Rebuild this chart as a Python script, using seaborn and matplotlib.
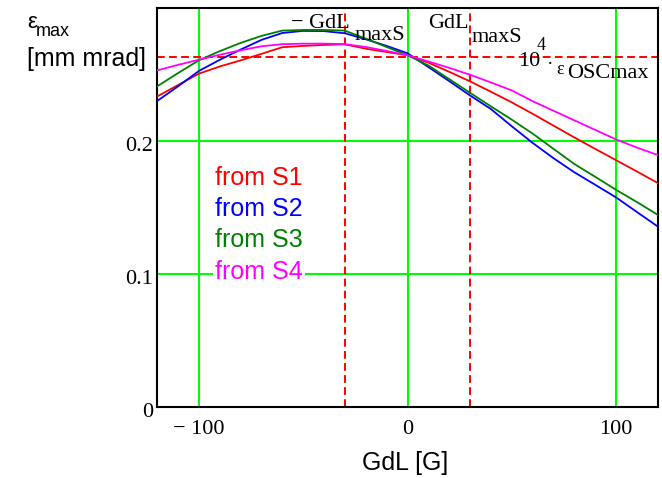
import numpy as np
import pandas as pd
import matplotlib
matplotlib.use("Agg")
import matplotlib.pyplot as plt
import matplotlib.transforms as mtransforms
import seaborn as sns

# ---- data ----
gdl = [-120, -110, -100, -90, -80, -70, -60, -50, -40, -30, -20, -10, 0,
       10, 20, 30, 40, 50, 60, 70, 80, 90, 100, 110, 120]
eps_s1 = [0.2334, 0.2420, 0.2506, 0.2560, 0.2606, 0.2655, 0.2705, 0.2715, 0.2722, 0.2727,
          0.2694, 0.2669, 0.2645, 0.2589, 0.2520, 0.2448, 0.2370, 0.2290, 0.2204, 0.2115,
          0.2026, 0.1940, 0.1855, 0.1770, 0.1683]
eps_s2 = [0.2300, 0.2410, 0.2526, 0.2610, 0.2687, 0.2760, 0.2812, 0.2828, 0.2826, 0.2810,
          0.2765, 0.2715, 0.2660, 0.2556, 0.2450, 0.2342, 0.2240, 0.2110, 0.1985, 0.1870,
          0.1764, 0.1670, 0.1575, 0.1465, 0.1356]
eps_s3 = [0.2410, 0.2510, 0.2606, 0.2675, 0.2737, 0.2790, 0.2830, 0.2835, 0.2835, 0.2830,
          0.2770, 0.2707, 0.2645, 0.2568, 0.2465, 0.2362, 0.2260, 0.2160, 0.2055, 0.1940,
          0.1826, 0.1730, 0.1632, 0.1540, 0.1444]
eps_s4 = [0.2531, 0.2572, 0.2611, 0.2648, 0.2682, 0.2712, 0.2728, 0.2732, 0.2732, 0.2728,
          0.2707, 0.2677, 0.2645, 0.2598, 0.2550, 0.2498, 0.2440, 0.2380, 0.2299, 0.2227,
          0.2155, 0.2083, 0.2011, 0.1950, 0.1894]
series_names = ["from S1", "from S2", "from S3", "from S4"]
series_colors = ["#FF0000", "#0000FF", "#008000", "#FF00FF"]

x_ticks = [-100, 0, 100]
x_tick_labels = ["\u2212 100", "0", "100"]
y_ticks = [0, 0.1, 0.2]
y_tick_labels = ["0", "0.1", "0.2"]
gdl_max_s = 30.0
eps_osc_max = 0.263

# ---- figure ----
sns.set_style("white")
plt.rcParams['font.family'] = ['Liberation Sans', 'DejaVu Sans']
plt.rcParams['text.color'] = 'black'
SERIF = ['Liberation Serif', 'DejaVu Serif']

W, H = 662, 478
fig = plt.figure(figsize=(W / 100, H / 100), dpi=100)
ax = fig.add_axes([157 / W, (H - 407) / H, 501 / W, 399 / H])

df = pd.concat([
    pd.DataFrame({"GdL": gdl, "eps": vals, "source": name})
    for name, vals in zip(series_names, [eps_s1, eps_s2, eps_s3, eps_s4])
])
sns.lineplot(data=df, x="GdL", y="eps", hue="source",
             palette=dict(zip(series_names, series_colors)),
             ax=ax, legend=False, linewidth=1.3, zorder=3)

ax.set_xlim(-120, 120)
ax.set_ylim(0, 0.3)

grid_green = "#00FF00"
for xv in x_ticks:
    ax.axvline(xv, color=grid_green, lw=1.5, zorder=1)
for yv in y_ticks[1:]:
    ax.axhline(yv, color=grid_green, lw=1.5, zorder=1)

dash = (0, (4, 2.2))
ax.axvline(-gdl_max_s, color="#FF0000", lw=1.4, ls=dash, zorder=2)
ax.axvline(gdl_max_s, color="#FF0000", lw=1.4, ls=dash, zorder=2)
ax.axhline(eps_osc_max, color="#FF0000", lw=1.4, ls=dash, zorder=2)

ax.set_xticks(x_ticks)
ax.set_xticklabels(x_tick_labels, fontfamily=SERIF, fontsize=16, color="black")
ax.set_yticks(y_ticks)
ax.set_yticklabels(y_tick_labels, fontfamily=SERIF, fontsize=16, color="black")
ax.tick_params(axis='both', length=0, colors='black')
ax.tick_params(axis='x', pad=9)
ax.tick_params(axis='y', pad=3)
shift = mtransforms.ScaledTranslation(0, -3 / 100, fig.dpi_scale_trans)
for lbl in ax.get_yticklabels():
    lbl.set_transform(lbl.get_transform() + shift)
ax.set_xlabel("")
ax.set_ylabel("")
for sp in ax.spines.values():
    sp.set_color("black")
    sp.set_linewidth(1.5)


def ftext(xp, yp, s, **kw):
    kw.setdefault("va", "center")
    kw.setdefault("color", "black")
    return fig.text(xp / W, 1 - yp / H, s, **kw)


# axis titles
ftext(27, 22, "\u03b5", fontsize=16)
ftext(36, 31, "max", fontsize=13)
ftext(27, 59, "[mm mrad]", fontsize=18)
ftext(405, 463, "GdL [G]", fontsize=18, ha="center")

# marker labels (Mathcad style)
ftext(291, 23, "\u2212 GdL", fontsize=16, family=SERIF)
ftext(355, 36, "maxS", fontsize=16, family=SERIF)
ftext(428, 23, "GdL", fontsize=16, family=SERIF)
ftext(472, 37, "maxS", fontsize=16, family=SERIF)
ftext(518, 61, "10", fontsize=16, family=SERIF)
ftext(537, 46, "4", fontsize=13, family=SERIF)
ftext(547, 64, "\u00b7", fontsize=14, family=SERIF)
ftext(556, 69, "\u03b5", fontsize=13, family=SERIF)
ftext(567, 73, "OSCmax", fontsize=16, family=SERIF)

# series labels
ys = [178, 209, 240, 272]
for name, col, yp in zip(series_names, series_colors, ys):
    t = ftext(215, yp, name, fontsize=18, color=col)
    if name == "from S4":
        t.set_bbox(dict(facecolor="white", edgecolor="none", pad=1.5))

fig.savefig("out.png", dpi=100)
